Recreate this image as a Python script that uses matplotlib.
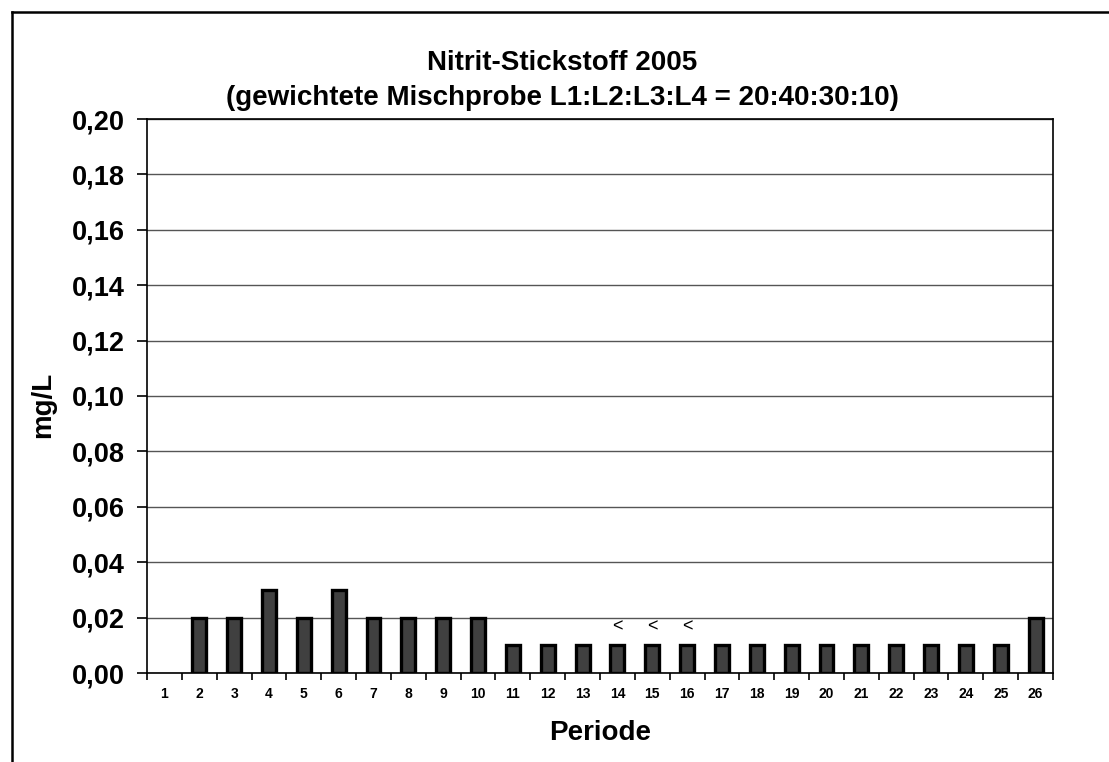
import matplotlib
matplotlib.use("Agg")
import matplotlib.pyplot as plt
from matplotlib.lines import Line2D

plt.rcParams['font.family'] = ['Liberation Sans', 'DejaVu Sans']

perioden = [str(i) for i in range(1, 27)]
# Periode 1 hat keinen Wert
werte = [None, 0.02, 0.02, 0.03, 0.02, 0.03, 0.02, 0.02, 0.02, 0.02,
         0.01, 0.01, 0.01, 0.01, 0.01, 0.01, 0.01, 0.01, 0.01, 0.01,
         0.01, 0.01, 0.01, 0.01, 0.01, 0.02]
kleiner_als = ['14', '15', '16']
y_ticks = [0.00, 0.02, 0.04, 0.06, 0.08, 0.10, 0.12, 0.14, 0.16, 0.18, 0.20]
titel_1 = 'Nitrit-Stickstoff 2005'
titel_2 = '(gewichtete Mischprobe L1:L2:L3:L4 = 20:40:30:10)'

W, H = 1109, 762
fig = plt.figure(figsize=(W / 100, H / 100), dpi=100)
ax = fig.add_axes([147 / W, 1 - 673 / H, (1053 - 147) / W, (673 - 119) / H])

# Rahmen des Diagrammbereichs (nur links und oben sichtbar)
fig.add_artist(Line2D([11.5 / W, 11.5 / W], [0, 1 - 11.5 / H], color='black', lw=1.8))
fig.add_artist(Line2D([11.5 / W, 1], [1 - 11.5 / H, 1 - 11.5 / H], color='black', lw=1.8))

x = list(range(len(perioden)))
bx = [i for i, v in zip(x, werte) if v is not None]
bv = [v for v in werte if v is not None]
ax.bar(bx, bv, width=0.4, color='#404040', edgecolor='black', linewidth=2.4, zorder=3)

for i, p in enumerate(perioden):
    if p in kleiner_als:
        ax.text(i, werte[i] + 0.0065, '<', ha='center', va='center', fontsize=13)

ax.set_xlim(-0.5, len(perioden) - 0.5)
ax.set_ylim(0, 0.2)
ax.set_yticks(y_ticks)
ax.set_yticklabels([f"{v:.2f}".replace('.', ',') for v in y_ticks],
                   fontsize=19.5, fontweight='bold')
ax.set_xticks(x)
ax.set_xticklabels(perioden, fontsize=10, fontweight='bold')
ax.set_xticks([i - 0.5 for i in range(len(perioden) + 1)], minor=True)
ax.tick_params(axis='x', which='major', length=0, pad=10)
ax.tick_params(axis='x', which='minor', length=5, width=1.2, direction='out')
ax.tick_params(axis='y', length=7, width=1.2, direction='out', pad=9)

ax.grid(axis='y', color='#555555', linewidth=1.0, zorder=0)
for s in ax.spines.values():
    s.set_linewidth(1.2)
    s.set_color('black')

ax.set_ylabel('mg/L', fontsize=20, fontweight='bold')
ax.yaxis.set_label_coords(-0.1005, 0.484)
ax.set_xlabel('Periode', fontsize=20, fontweight='bold', labelpad=14)

# Titel ist über dem ganzen Diagrammbereich zentriert
fig.text(562 / W, 1 - 70 / H, titel_1, ha='center', va='baseline',
         fontsize=20, fontweight='bold')
fig.text(562 / W, 1 - 105 / H, titel_2, ha='center', va='baseline',
         fontsize=20, fontweight='bold')

fig.savefig('out.png', dpi=100, facecolor='white')
